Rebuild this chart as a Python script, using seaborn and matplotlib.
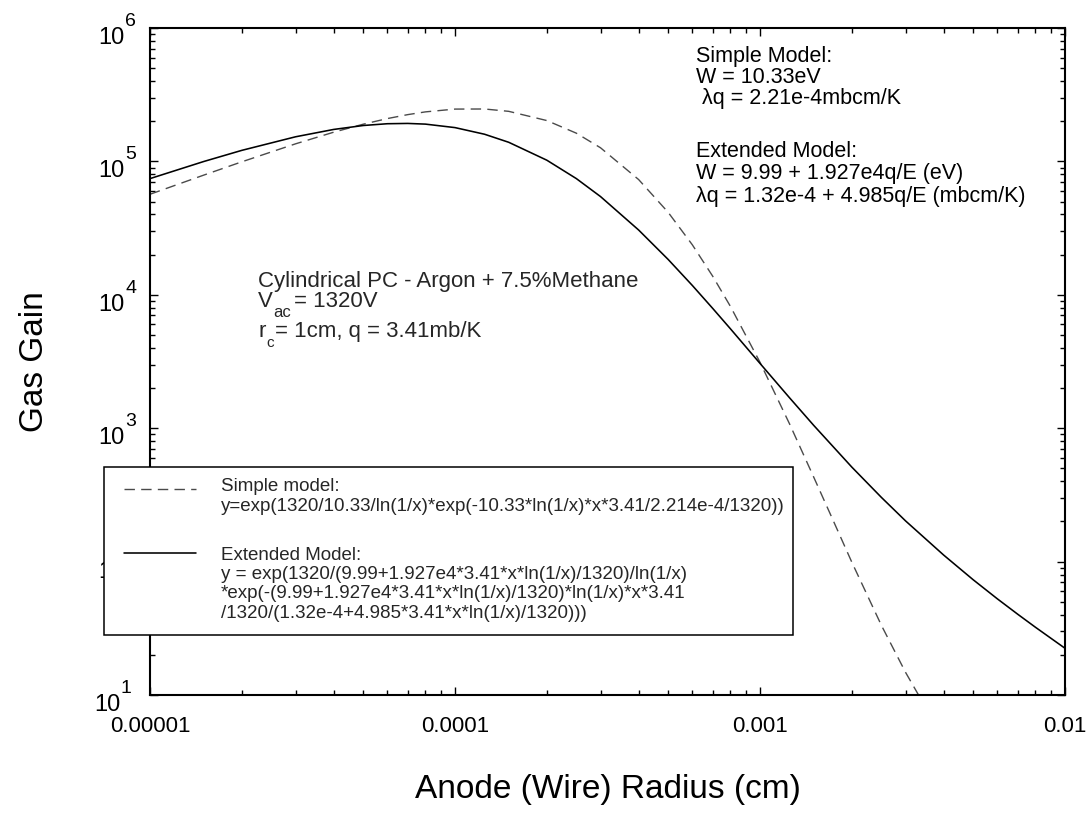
import numpy as np
import pandas as pd
import matplotlib
matplotlib.use("Agg")
import matplotlib.pyplot as plt
import seaborn as sns
from matplotlib import transforms
from matplotlib.lines import Line2D
from matplotlib.patches import Rectangle
from matplotlib.ticker import LogLocator, NullFormatter, FixedLocator

# ---------------- data ----------------
simple_radius = [1e-5, 1.5e-5, 2e-5, 3e-5, 4e-5, 5e-5, 6e-5, 7e-5, 8e-5, 1e-4,
                 1.25e-4, 1.5e-4, 2e-4, 2.5e-4, 3e-4, 4e-4, 5e-4, 6e-4, 7e-4, 8e-4,
                 1e-3, 1.25e-3, 1.5e-3, 1.75e-3, 2e-3, 2.5e-3, 3e-3, 3.5e-3]
simple_gain = [5.67e4, 7.89e4, 9.93e4, 1.354e5, 1.655e5, 1.90e5, 2.094e5, 2.242e5, 2.351e5, 2.467e5,
               2.471e5, 2.373e5, 2.024e5, 1.627e5, 1.265e5, 7.31e4, 4.15e4, 2.37e4, 1.376e4, 8.18e3,
               3.12e3, 1.077e3, 430, 196, 99, 33.3, 14.8, 8.0]

extended_radius = [1e-5, 1.5e-5, 2e-5, 3e-5, 4e-5, 5e-5, 6e-5, 7e-5, 8e-5, 1e-4,
                   1.25e-4, 1.5e-4, 2e-4, 2.5e-4, 3e-4, 4e-4, 5e-4, 6e-4, 7e-4, 8e-4,
                   1e-3, 1.25e-3, 1.5e-3, 2e-3, 2.5e-3, 3e-3, 4e-3, 5e-3, 6e-3, 7e-3,
                   8e-3, 1e-2]
extended_gain = [7.43e4, 9.98e4, 1.21e5, 1.529e5, 1.736e5, 1.858e5, 1.916e5, 1.926e5, 1.903e5, 1.792e5,
                 1.598e5, 1.391e5, 1.021e5, 7.43e4, 5.45e4, 3.06e4, 1.84e4, 1.175e4, 7.90e3, 5.56e3,
                 3.06e3, 1.69e3, 1.05e3, 511, 303, 202, 112, 73.1, 52.6, 40.3,
                 32.2, 22.4]

x_ticks = [1e-5, 1e-4, 1e-3, 1e-2]
x_tick_labels = ["0.00001", "0.0001", "0.001", "0.01"]
y_exponents = [1, 2, 3, 4, 5, 6]

x_label = "Anode (Wire) Radius (cm)"
y_label = "Gas Gain"

right_block = ["Simple Model:", "W = 10.33eV", " \u03bbq = 2.21e-4mbcm/K",
               "Extended Model:", "W = 9.99 + 1.927e4q/E (eV)",
               "\u03bbq = 1.32e-4 + 4.985q/E (mbcm/K)"]
legend_simple = ["Simple model:",
                 "y=exp(1320/10.33/ln(1/x)*exp(-10.33*ln(1/x)*x*3.41/2.214e-4/1320))"]
legend_extended = ["Extended Model:",
                   "y = exp(1320/(9.99+1.927e4*3.41*x*ln(1/x)/1320)/ln(1/x)",
                   "*exp(-(9.99+1.927e4*3.41*x*ln(1/x)/1320)*ln(1/x)*x*3.41",
                   "/1320/(1.32e-4+4.985*3.41*x*ln(1/x)/1320)))"]

# ---------------- style ----------------
sns.set_theme(style="ticks")
plt.rcParams['font.family'] = ['Liberation Sans', 'DejaVu Sans']
plt.rcParams['axes.linewidth'] = 1.5

W, H = 1092, 817
fig = plt.figure(figsize=(W / 100, H / 100), dpi=100)
fig.patch.set_facecolor("white")
L, R, T, B = 150, 1065, 28, 695
ax = fig.add_axes([L / W, 1 - B / H, (R - L) / W, (B - T) / H])
ax.set_facecolor("white")

def fx(px):
    return px / W

def fy(py):
    return 1 - py / H

df_s = pd.DataFrame({"radius": simple_radius, "gain": simple_gain})
df_e = pd.DataFrame({"radius": extended_radius, "gain": extended_gain})

sns.lineplot(data=df_s, x="radius", y="gain", ax=ax, estimator=None, sort=True,
             color="#4a4a4a", linewidth=1.0, linestyle=(0, (7.5, 4.5)))
sns.lineplot(data=df_e, x="radius", y="gain", ax=ax, estimator=None, sort=True,
             color="black", linewidth=1.15)

ax.set_xscale("log")
ax.set_yscale("log")
ax.set_xlim(1e-5, 1e-2)
ax.set_ylim(10, 1e6)

for sp in ax.spines.values():
    sp.set_visible(True)
    sp.set_color("black")
    sp.set_linewidth(1.5)

ax.xaxis.set_major_locator(FixedLocator(x_ticks))
ax.set_xticklabels(x_tick_labels)
ax.xaxis.set_minor_locator(LogLocator(base=10, subs=np.arange(2, 10), numticks=20))
ax.xaxis.set_minor_formatter(NullFormatter())
ax.yaxis.set_major_locator(FixedLocator([10.0 ** e for e in y_exponents]))
ax.yaxis.set_minor_locator(LogLocator(base=10, subs=np.arange(2, 10), numticks=20))
ax.yaxis.set_minor_formatter(NullFormatter())
ax.set_yticklabels([])

ax.tick_params(which="both", direction="in", top=True, right=True, color="black", width=1.0)
ax.tick_params(which="major", length=6)
ax.tick_params(which="minor", length=3.5)
ax.tick_params(axis="x", which="major", labelsize=16, pad=15, labelcolor="black")

# y tick labels drawn as "10" + raised exponent
ytrans = transforms.blended_transform_factory(ax.transAxes, ax.transData)
for e in y_exponents:
    dx = -25 if e != 1 else -30
    t10 = transforms.offset_copy(ytrans, fig=fig, x=dx, y=1, units="dots")
    ax.text(0, 10.0 ** e, "10", transform=t10, ha="right", va="top",
            fontsize=17, color="black", clip_on=False)
    tex = transforms.offset_copy(ytrans, fig=fig, x=dx, y=2, units="dots")
    ax.text(0, 10.0 ** e, str(e), transform=tex, ha="left", va="baseline",
            fontsize=14, color="black", clip_on=False)

ax.set_xlabel(x_label, fontsize=24, color="black")
ax.xaxis.set_label_coords(0.5, -0.118)
ax.set_ylabel(y_label, fontsize=24, color="black", va="center")
ax.yaxis.set_label_coords(-0.126, 0.5)

# ---------------- annotations ----------------
rb_y = [62, 83, 104, 157, 179, 202]
for txt, yy in zip(right_block, rb_y):
    fig.text(fx(696), fy(yy), txt, fontsize=15.5, ha="left", va="baseline", color="black")

fig.text(fx(258), fy(287), "Cylindrical PC - Argon + 7.5%Methane", fontsize=16,
         ha="left", va="baseline")
fig.text(fx(258), fy(307), "V", fontsize=16, ha="left", va="baseline")
fig.text(fx(273), fy(317), "ac", fontsize=12, ha="left", va="baseline")
fig.text(fx(294), fy(307), "= 1320V", fontsize=16, ha="left", va="baseline")
fig.text(fx(258), fy(337), "r", fontsize=16, ha="left", va="baseline")
fig.text(fx(266), fy(347), "c", fontsize=11, ha="left", va="baseline")
fig.text(fx(275), fy(337), "= 1cm, q = 3.41mb/K", fontsize=16, ha="left", va="baseline")

# ---------------- legend box ----------------
fig.add_artist(Rectangle((fx(104), fy(635)), (793 - 104) / W, (635 - 467) / H,
                         transform=fig.transFigure, facecolor="white",
                         edgecolor="black", linewidth=1.1, zorder=5))
fig.add_artist(Line2D([fx(124), fx(196)], [fy(489), fy(489)], transform=fig.transFigure,
                      color="#4a4a4a", linewidth=1.0, linestyle=(0, (7.5, 4.5)), zorder=6))
fig.add_artist(Line2D([fx(124), fx(196)], [fy(553), fy(553)], transform=fig.transFigure,
                      color="black", linewidth=1.15, zorder=6))
for txt, yy in zip(legend_simple, [491, 511]):
    fig.text(fx(221), fy(yy), txt, fontsize=13.5, ha="left", va="baseline", zorder=7)
for txt, yy in zip(legend_extended, [559.5, 579, 598.5, 618]):
    fig.text(fx(221), fy(yy), txt, fontsize=13.5, ha="left", va="baseline", zorder=7)

fig.savefig("out.png", dpi=100, facecolor="white")
